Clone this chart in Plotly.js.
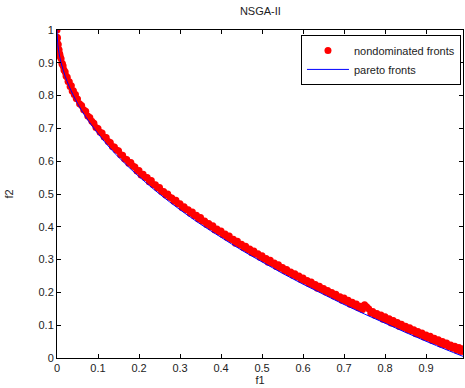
<!DOCTYPE html>
<html>
<head>
<meta charset="utf-8">
<script src="https://cdn.plot.ly/plotly-3.0.1.min.js"></script>
<style>html,body{margin:0;padding:0;background:#fff;}#chart{width:465px;height:388px;}</style>
</head>
<body>
<div id="chart"></div>
<script>
// Nondominated fronts (red dots)
const ndF1 = [0.000,0.001,0.003,0.005,0.007,0.010,0.013,0.015,0.020,0.025,0.030,0.035,0.040,0.045,0.050,0.060,0.070,0.080,0.090,0.100,
  0.110,0.120,0.130,0.140,0.150,0.160,0.170,0.180,0.190,0.200,0.210,0.220,0.230,0.240,0.250,0.260,0.270,0.280,0.290,0.300,
  0.310,0.320,0.330,0.340,0.350,0.360,0.370,0.380,0.390,0.400,0.410,0.420,0.430,0.440,0.450,0.460,0.470,0.480,0.490,0.500,
  0.510,0.520,0.530,0.540,0.550,0.560,0.570,0.580,0.590,0.600,0.610,0.620,0.630,0.640,0.650,0.660,0.670,0.680,0.690,0.700,
  0.710,0.720,0.730,0.740,0.750,0.760,0.770,0.780,0.790,0.800,0.810,0.820,0.830,0.840,0.850,0.860,0.870,0.880,0.890,0.900,
  0.910,0.920,0.930,0.940,0.950,0.960,0.970,0.980,0.990,
  0.0005,0.002,0.004,0.006,0.008,0.012,0.017,0.022,0.027,0.032,0.037,0.042,0.047,
  0.055,0.065,0.075,0.085,0.095,0.105,0.115,0.125,0.135,0.145,0.155,0.165,0.175,0.185,0.195,
  0.205,0.215,0.225,0.235,0.245,0.255,0.265,0.275,0.285,0.295,0.305,0.315,0.325,0.335,0.345,
  0.355,0.365,0.375,0.385,0.395,0.405,0.415,0.425,0.435,0.445,0.455,0.465,0.475,0.485,0.495,
  0.505,0.515,0.525,0.535,0.545,0.555,0.565,0.575,0.585,0.595,0.605,0.615,0.625,0.635,0.645,
  0.655,0.665,0.675,0.685,0.695,0.705,0.715,0.725,0.735,0.745,0.755,0.765,0.775,0.785,0.795,
  0.805,0.815,0.825,0.835,0.845,0.855,0.865,0.875,0.885,0.895,0.905,0.915,0.925,0.935,0.945,
  0.955,0.965,0.975,0.985,0.995];
const ndF2 = [1.000,0.975,0.955,0.940,0.925,0.912,0.898,0.890,0.872,0.856,0.842,0.830,0.815,0.803,0.790,0.770,0.752,0.733,0.716,0.700,
  0.686,0.672,0.657,0.643,0.632,0.618,0.605,0.596,0.582,0.572,0.560,0.550,0.541,0.528,0.520,0.508,0.500,0.488,0.481,0.470,
  0.461,0.452,0.445,0.435,0.428,0.418,0.410,0.403,0.393,0.387,0.378,0.372,0.362,0.356,0.347,0.341,0.332,0.326,0.318,0.312,
  0.303,0.298,0.290,0.284,0.276,0.270,0.262,0.257,0.250,0.244,0.236,0.232,0.224,0.219,0.212,0.206,0.200,0.194,0.187,0.183,
  0.176,0.170,0.165,0.158,0.162,0.150,0.142,0.136,0.131,0.126,0.120,0.114,0.108,0.103,0.097,0.092,0.086,0.081,0.076,0.070,
  0.066,0.060,0.056,0.050,0.046,0.040,0.036,0.032,0.028,
  0.978,0.958,0.940,0.928,0.918,0.897,0.878,0.860,0.843,0.828,0.814,0.803,0.791,
  0.775,0.757,0.738,0.722,0.703,0.688,0.674,0.660,0.645,0.634,0.620,0.607,0.594,0.585,0.570,
  0.558,0.550,0.537,0.528,0.518,0.508,0.497,0.490,0.478,0.470,0.459,0.452,0.441,0.434,0.424,
  0.417,0.407,0.400,0.390,0.384,0.376,0.367,0.361,0.350,0.345,0.336,0.330,0.321,0.316,0.307,
  0.301,0.292,0.288,0.279,0.274,0.266,0.260,0.252,0.247,0.239,0.234,0.226,0.221,0.213,0.209,
  0.201,0.196,0.189,0.184,0.176,0.172,0.164,0.160,0.153,0.148,0.156,0.137,0.130,0.126,0.118,
  0.114,0.107,0.104,0.096,0.093,0.086,0.082,0.074,0.071,0.064,0.060,0.053,0.050,0.043,0.040,
  0.034,0.030,0.024,0.020,0.018];
// Pareto front (blue line)
const pfF1 = [0,0.002,0.005,0.01,0.02,0.03,0.05,0.07,0.1,0.13,0.16,0.2,0.25,0.3,0.35,0.4,0.45,0.5,0.55,0.6,0.65,0.7,0.75,0.8,0.85,0.9,0.95,0.99];
const pfF2 = [1,0.955,0.929,0.9,0.859,0.827,0.776,0.735,0.684,0.639,0.6,0.553,0.5,0.452,0.408,0.368,0.329,0.293,0.258,0.225,0.194,0.163,0.134,0.106,0.078,0.051,0.025,0.005];
const xTicks = [0,0.1,0.2,0.3,0.4,0.5,0.6,0.7,0.8,0.9];
const yTicks = [0,0.1,0.2,0.3,0.4,0.5,0.6,0.7,0.8,0.9,1];
const xTickText = ['0','0.1','0.2','0.3','0.4','0.5','0.6','0.7','0.8','0.9'];
const yTickText = ['0','0.1','0.2','0.3','0.4','0.5','0.6','0.7','0.8','0.9','1'];

const font = {family:'"Liberation Sans", Arial, sans-serif', size:11, color:'#222'};
const traces = [
  {x:ndF1, y:ndF2, mode:'markers', type:'scatter', name:'nondominated fronts',
   marker:{color:'#ff0000', size:7, line:{width:0}}},
  {x:pfF1, y:pfF2, mode:'lines', type:'scatter', name:'pareto fronts',
   line:{color:'#0000ff', width:1, shape:'spline'}}
];
const axisBase = {showline:true, linecolor:'#000', linewidth:1, mirror:'ticks', ticks:'inside',
  ticklen:4, tickcolor:'#000', showgrid:false, zeroline:false, tickfont:font};
const layout = {
  width:465, height:388,
  margin:{l:57, r:2, t:30, b:30},
  paper_bgcolor:'#fff', plot_bgcolor:'#fff',
  font:font,
  title:{text:'NSGA-II', font:{family:font.family, size:11, color:'#222'}, x:0.56, xanchor:'center', y:0.97, yanchor:'middle'},
  xaxis:Object.assign({}, axisBase, {range:[0,0.99], tickvals:xTicks, ticktext:xTickText,
    title:{text:'f1', font:font, standoff:2}}),
  yaxis:Object.assign({}, axisBase, {range:[0,1], tickvals:yTicks, ticktext:yTickText,
    title:{text:'f2', font:font, standoff:22}}),
  legend:{x:0.995, xanchor:'right', y:0.985, yanchor:'top', bgcolor:'#fff', bordercolor:'#000', borderwidth:1,
    font:font, itemwidth:42},
  showlegend:true
};
Plotly.newPlot('chart', traces, layout, {staticPlot:true, displayModeBar:false});
</script>
</body>
</html>
